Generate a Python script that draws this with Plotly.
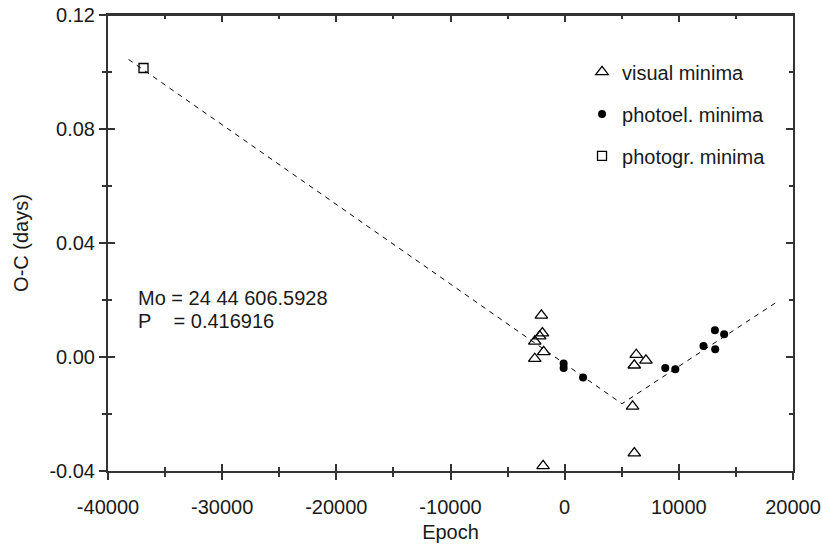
import plotly.graph_objects as go

# ---- data ----
vis_epoch = [-2040, -1950, -2190, -2620, -1840, -2620, -1890, 6270, 7120, 6100, 5950, 6100]
vis_oc = [0.0146, 0.0084, 0.0073, 0.0055, 0.0018, -0.0006, -0.0382, 0.0008, -0.0012, -0.0029, -0.0173, -0.0337]

pe_epoch = [-90, -90, 1610, 8810, 9690, 12160, 13160, 13185, 13970]
pe_oc = [-0.0023, -0.0039, -0.0072, -0.0039, -0.0043, 0.0039, 0.0094, 0.0027, 0.0080]

pg_epoch = [-36890]
pg_oc = [0.1014]

fit_epoch = [-38200, 5020, 18580]
fit_oc = [0.1044, -0.0164, 0.0193]

x_ticks = [-40000, -30000, -20000, -10000, 0, 10000, 20000]
x_labels = ["-40000", "-30000", "-20000", "-10000", "0", "10000", "20000"]
y_ticks = [-0.04, 0.00, 0.04, 0.08, 0.12]
y_labels = ["-0.04", "0.00", "0.04", "0.08", "0.12"]

FONT = "Liberation Sans, Arial, sans-serif"
TXT = "#1a1a1a"
AX = "#333333"

fig = go.Figure()

fig.add_trace(go.Scatter(
    x=fit_epoch, y=fit_oc, mode="lines",
    line=dict(color="black", width=1, dash="5px,5px"),
    showlegend=False, hoverinfo="skip"))

fig.add_trace(go.Scatter(
    x=vis_epoch, y=vis_oc, mode="markers", name="visual minima",
    marker=dict(symbol="triangle-up-open", size=11, color="black",
                line=dict(width=1.3, color="black")),
    legendgroup="a"))

fig.add_trace(go.Scatter(
    x=pe_epoch, y=pe_oc, mode="markers", name="photoel. minima",
    marker=dict(symbol="circle", size=8, color="black"),
    legendgroup="b"))

fig.add_trace(go.Scatter(
    x=pg_epoch, y=pg_oc, mode="markers", name="photogr. minima",
    marker=dict(symbol="square-open", size=9, color="black",
                line=dict(width=1.3, color="black")),
    legendgroup="c"))

# helper trace for the overlay axes (inside ticks)
fig.add_trace(go.Scatter(x=[], y=[], xaxis="x2", yaxis="y2",
                         showlegend=False, hoverinfo="skip"))

common = dict(showgrid=False, zeroline=False, showline=True,
              linecolor=AX, linewidth=2, tickcolor=AX, tickwidth=1.5)

fig.update_layout(
    width=822, height=546,
    margin=dict(l=108, r=29, t=15, b=75, autoexpand=False),
    paper_bgcolor="white", plot_bgcolor="white",
    font=dict(family=FONT, size=20, color=TXT),
    xaxis=dict(range=[-40000, 20000], tickvals=x_ticks, ticktext=x_labels,
               ticks="outside", ticklen=7, ticklabelstandoff=10,
               ticklabeloverflow="allow", mirror=True,
               minor=dict(dtick=5000, ticks="outside", ticklen=4,
                          tickcolor=AX, tickwidth=1.5),
               tickfont=dict(size=20), automargin=False,
               title=dict(text="Epoch", font=dict(size=20), standoff=8),
               **common),
    yaxis=dict(range=[-0.04, 0.12], tickvals=y_ticks, ticktext=y_labels,
               ticks="outside", ticklen=7, ticklabeloverflow="allow",
               mirror=True,
               minor=dict(dtick=0.02, ticks="outside", ticklen=4,
                          tickcolor=AX, tickwidth=1.5),
               tickfont=dict(size=20), automargin=False,
               ticklabelstandoff=0,
               title=dict(text="O-C (days)", font=dict(size=20), standoff=15),
               **common),
    xaxis2=dict(overlaying="x", anchor="y2", side="bottom",
                range=[-40000, 20000], tickvals=x_ticks,
                ticks="inside", ticklen=7, mirror="ticks",
                minor=dict(dtick=5000, ticks="inside", ticklen=4,
                           tickcolor=AX, tickwidth=1.5),
                showticklabels=False, automargin=False, **common),
    yaxis2=dict(overlaying="y", anchor="x2", side="left",
                range=[-0.04, 0.12], tickvals=y_ticks,
                ticks="inside", ticklen=7, mirror="ticks",
                minor=dict(dtick=0.02, ticks="inside", ticklen=4,
                           tickcolor=AX, tickwidth=1.5),
                showticklabels=False, automargin=False, **common),
    legend=dict(x=0.692, y=0.918, xanchor="left", yanchor="top",
                bgcolor="rgba(0,0,0,0)", font=dict(size=20, color=TXT),
                traceorder="grouped", tracegroupgap=13),
    showlegend=True,
)

# frame edge along the top of the plotting area
fig.add_shape(type="line", xref="paper", yref="paper",
              x0=0, x1=1, y0=1, y1=1, layer="above",
              line=dict(color=AX, width=2))

fig.add_annotation(xref="paper", yref="paper", x=0.041, y=0.380,
                   xanchor="left", yanchor="middle", showarrow=False,
                   text="Mo\u00a0=\u00a024 44 606.5928",
                   font=dict(size=20, color=TXT))
fig.add_annotation(xref="paper", yref="paper", x=0.041, y=0.330,
                   xanchor="left", yanchor="middle", showarrow=False,
                   text="P\u00a0\u00a0\u00a0\u00a0=\u00a00.416916",
                   font=dict(size=20, color=TXT))

# remove the browser's default page margin so the figure sits at the window origin
fig.write_html("out.html", config={"displayModeBar": False},
               post_script="document.body.style.margin='0';")
